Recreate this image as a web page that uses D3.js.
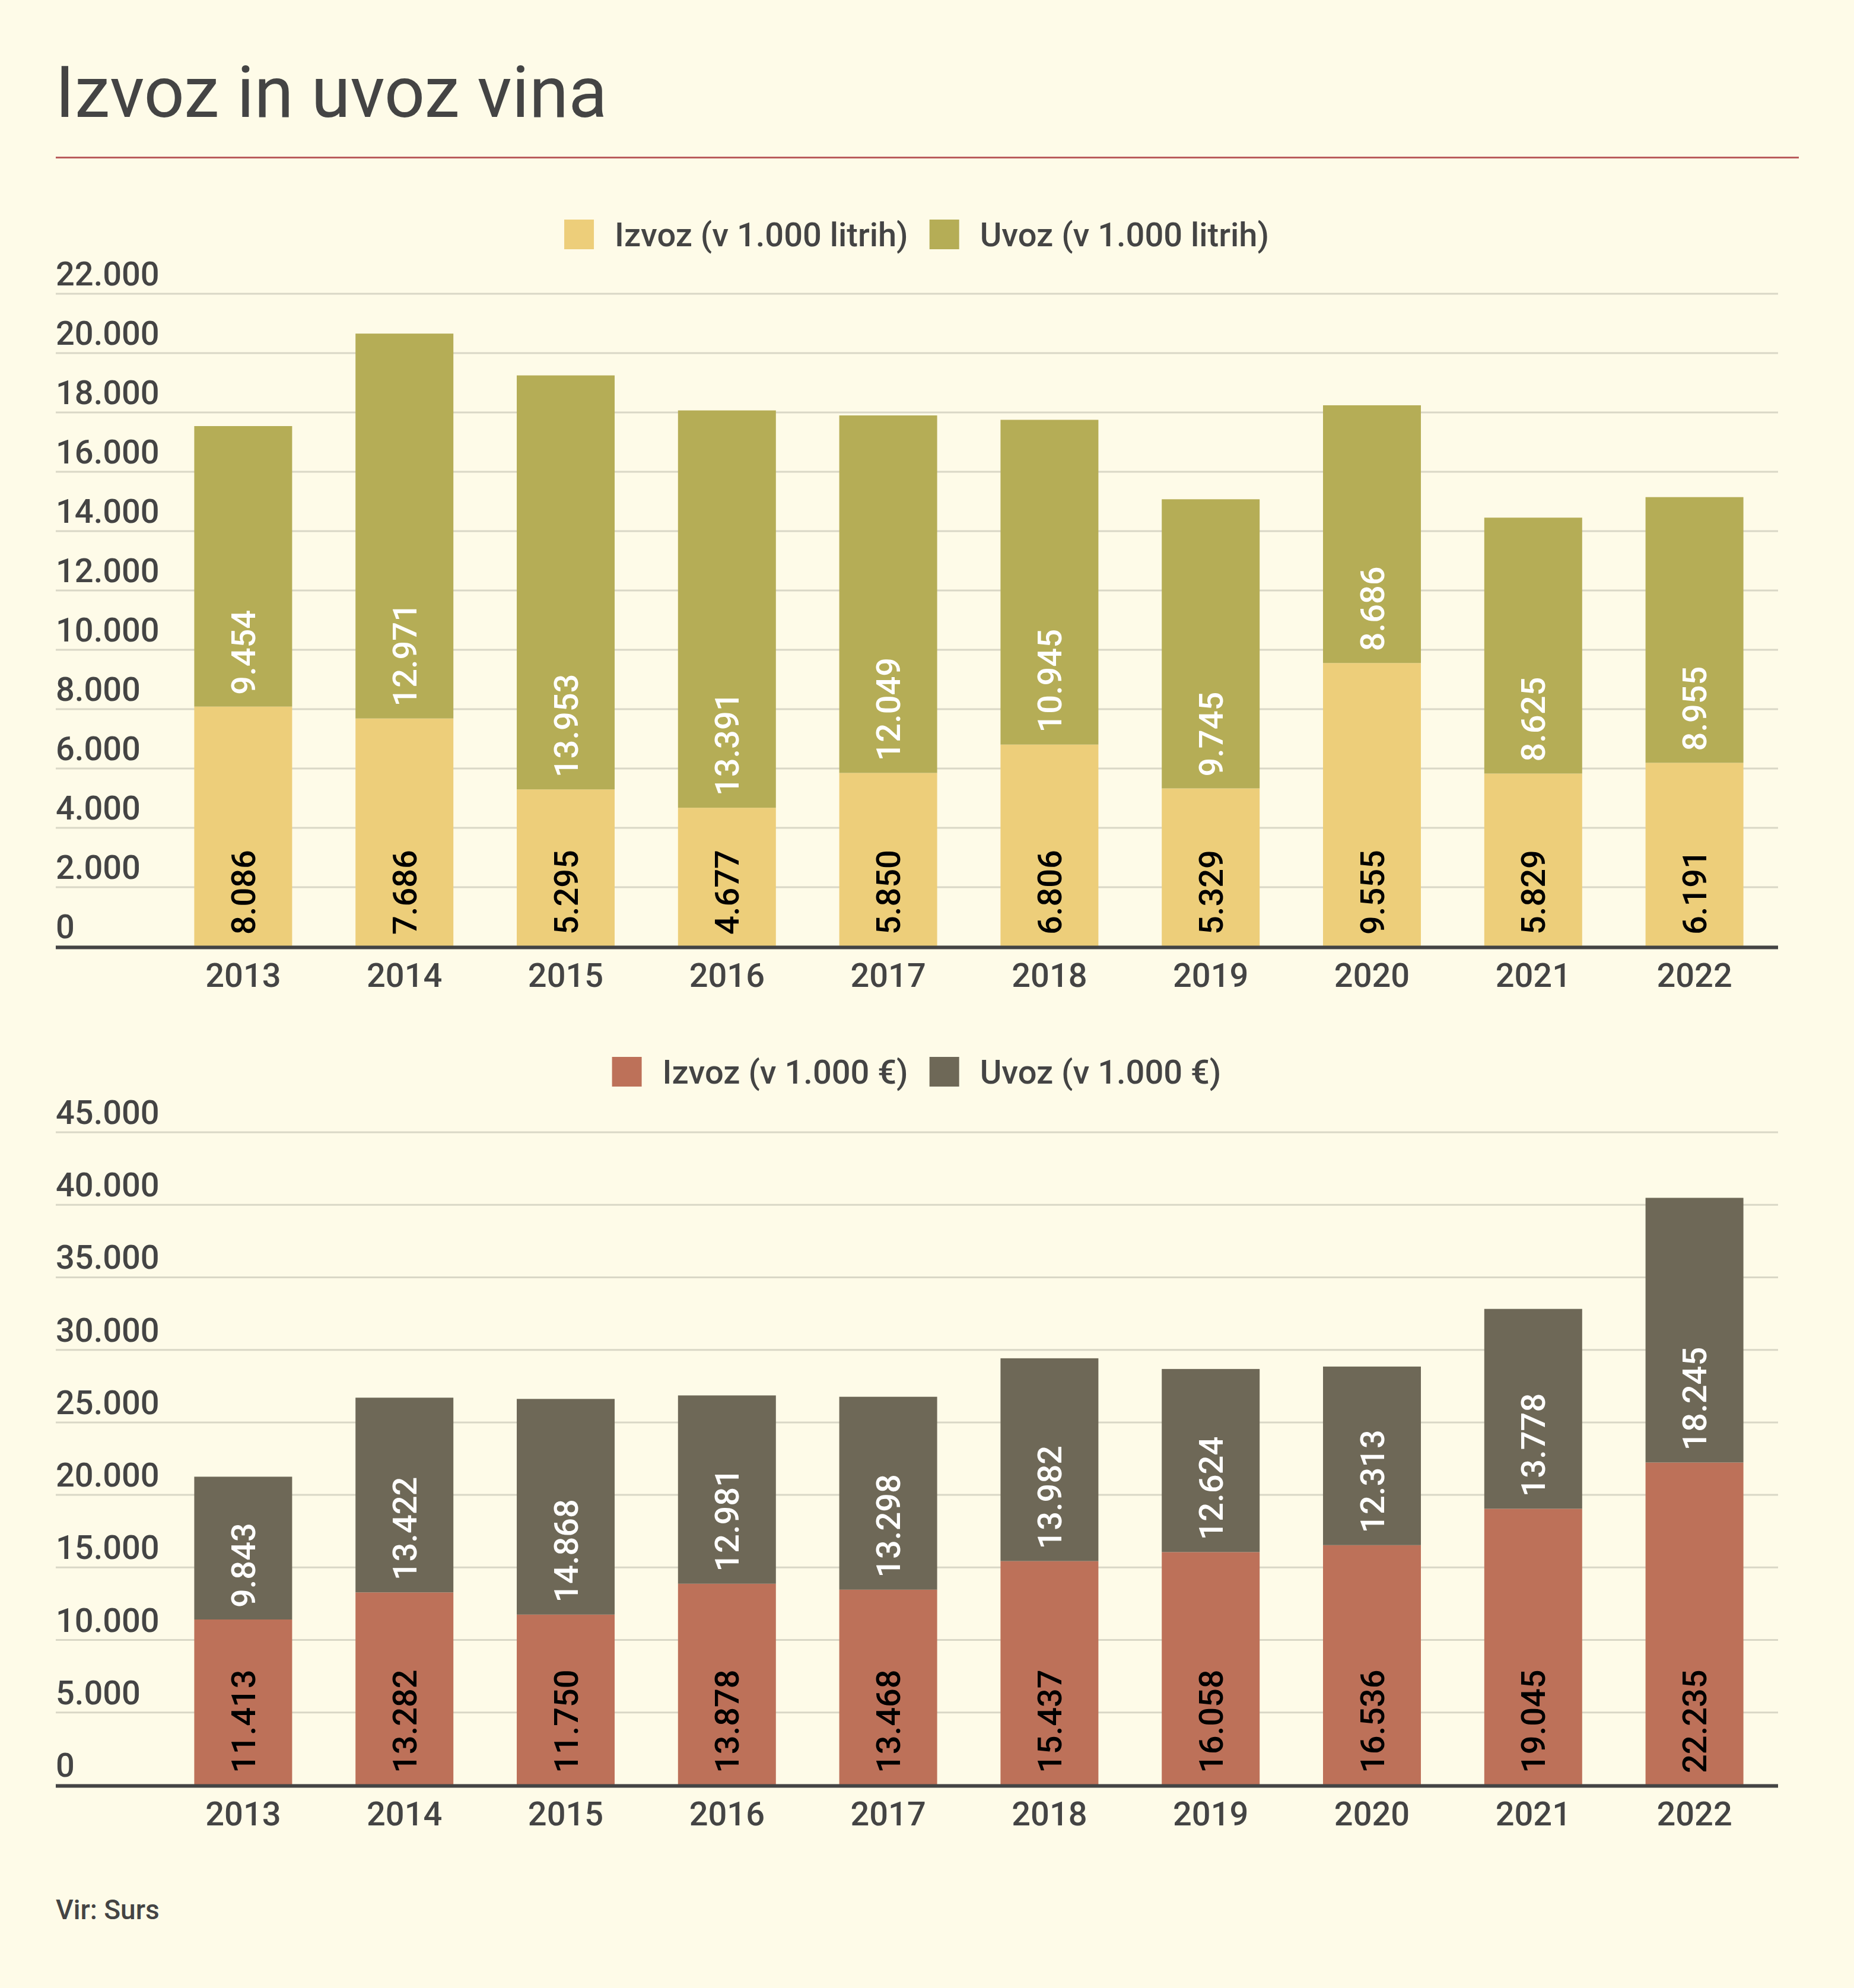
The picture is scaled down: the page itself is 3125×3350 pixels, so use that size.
<!DOCTYPE html>
<html>
<head>
<meta charset="utf-8">
<script src="https://cdn.jsdelivr.net/npm/d3@7"></script>
<style>
  body { margin: 0; background: #fefbe8; }
  svg { display: block; font-family: Roboto, "Noto Sans", sans-serif; }
</style>
</head>
<body>
<svg id="chart" width="3125" height="3350"></svg>
<script>
// Data
var years = ["2013", "2014", "2015", "2016", "2017", "2018", "2019", "2020", "2021", "2022"];

var izvozLitri = [8086, 7686, 5295, 4677, 5850, 6806, 5329, 9555, 5829, 6191];
var uvozLitri = [9454, 12971, 13953, 13391, 12049, 10945, 9745, 8686, 8625, 8955];

var izvozEur = [11413, 13282, 11750, 13878, 13468, 15437, 16058, 16536, 19045, 22235];
var uvozEur = [9843, 13422, 14868, 12981, 13298, 13982, 12624, 12313, 13778, 18245];

var ticksLitri = [0, 2000, 4000, 6000, 8000, 10000, 12000, 14000, 16000, 18000, 20000, 22000];
var ticksEur = [0, 5000, 10000, 15000, 20000, 25000, 30000, 35000, 40000, 45000];

var legendLitri = ["Izvoz (v 1.000 litrih)", "Uvoz (v 1.000 litrih)"];
var legendEur = ["Izvoz (v 1.000 €)", "Uvoz (v 1.000 €)"];

// Slovene number format: 12.345
var fmt = d3.formatLocale({ decimal: ",", thousands: ".", grouping: [3], currency: ["", " €"] }).format(",d");

var svg = d3.select("#chart");
var textColor = "#444444";

// Title
svg.append("text")
    .attr("x", 93)
    .attr("y", 197)
    .attr("font-size", 120)
    .attr("fill", textColor)
    .text("Izvoz in uvoz vina");

svg.append("line")
    .attr("x1", 94).attr("x2", 3032)
    .attr("y1", 265.5).attr("y2", 265.5)
    .attr("stroke", "#b95c5c")
    .attr("stroke-width", 3);

var x = d3.scaleBand()
    .domain(years)
    .range([274, 2992])
    .paddingInner(0.393)
    .paddingOuter(0.1965);

function drawChart(cfg) {
    var g = svg.append("g");
    var y = d3.scaleLinear().domain(cfg.domain).range(cfg.range);
    var y0 = y(0);

    // Legend
    var legend = g.append("g");
    var lx = 0;
    cfg.legend.forEach(function (name, i) {
        var item = legend.append("g").attr("transform", "translate(" + lx + ",0)");
        item.append("rect")
            .attr("x", 0).attr("y", cfg.legendY - 25)
            .attr("width", 50).attr("height", 50)
            .attr("fill", cfg.colors[i]);
        var t = item.append("text")
            .attr("x", 85).attr("y", cfg.legendY + 20)
            .attr("font-size", 56)
            .attr("font-weight", 500)
            .attr("fill", textColor)
            .text(name);
        lx += 85 + t.node().getComputedTextLength() + 36;
    });
    lx -= 36;
    legend.attr("transform", "translate(" + (1545 - lx / 2) + ",0)");

    // Gridlines and tick labels
    g.append("g").selectAll("line")
        .data(cfg.ticks)
        .enter()
        .append("line")
        .attr("x1", 94).attr("x2", 2997)
        .attr("y1", d => y(d)).attr("y2", d => y(d))
        .attr("stroke", "#d9d7c6")
        .attr("stroke-width", 3);

    g.append("g").selectAll("text")
        .data(cfg.ticks)
        .enter()
        .append("text")
        .attr("x", 94)
        .attr("y", d => y(d) - 14)
        .attr("font-size", 56)
        .attr("font-weight", 500)
        .attr("fill", textColor)
        .text(d => fmt(d));

    // Stacked bars
    var rows = years.map((yr, i) => ({ year: yr, a: cfg.lower[i], b: cfg.upper[i] }));

    var bars = g.append("g").selectAll("g")
        .data(rows)
        .enter()
        .append("g");

    bars.append("rect")
        .attr("x", d => x(d.year))
        .attr("width", x.bandwidth())
        .attr("y", d => y(d.a))
        .attr("height", d => y0 - y(d.a))
        .attr("fill", cfg.colors[0]);

    bars.append("rect")
        .attr("x", d => x(d.year))
        .attr("width", x.bandwidth())
        .attr("y", d => y(d.a + d.b))
        .attr("height", d => y(d.a) - y(d.a + d.b))
        .attr("fill", cfg.colors[1]);

    // Value labels, rotated
    bars.append("text")
        .attr("transform", d => "translate(" + (x(d.year) + x.bandwidth() / 2) + "," + (y0 - 20) + ") rotate(-90)")
        .attr("dy", "0.36em")
        .attr("font-size", 56)
        .attr("font-weight", 500)
        .attr("fill", "#000000")
        .text(d => fmt(d.a));

    bars.append("text")
        .attr("transform", d => "translate(" + (x(d.year) + x.bandwidth() / 2) + "," + (y(d.a) - 20) + ") rotate(-90)")
        .attr("dy", "0.36em")
        .attr("font-size", 56)
        .attr("font-weight", 500)
        .attr("fill", "#ffffff")
        .text(d => fmt(d.b));

    // Baseline
    g.append("line")
        .attr("x1", 94).attr("x2", 2997)
        .attr("y1", y0 + 1.5).attr("y2", y0 + 1.5)
        .attr("stroke", textColor)
        .attr("stroke-width", 6);

    // Year labels
    g.append("g").selectAll("text")
        .data(years)
        .enter()
        .append("text")
        .attr("x", d => x(d) + x.bandwidth() / 2)
        .attr("y", y0 + 68)
        .attr("text-anchor", "middle")
        .attr("font-size", 56)
        .attr("font-weight", 500)
        .attr("fill", textColor)
        .text(d => d);
}

drawChart({
    domain: [0, 22000],
    range: [1595, 495],
    ticks: ticksLitri,
    lower: izvozLitri,
    upper: uvozLitri,
    colors: ["#edce7a", "#b5ad56"],
    legend: legendLitri,
    legendY: 395
});

drawChart({
    domain: [0, 45000],
    range: [3008, 1908],
    ticks: ticksEur,
    lower: izvozEur,
    upper: uvozEur,
    colors: ["#bd7159", "#6e6857"],
    legend: legendEur,
    legendY: 1806
});

// Source
svg.append("text")
    .attr("x", 94)
    .attr("y", 3234)
    .attr("font-size", 46)
    .attr("font-weight", 500)
    .attr("fill", textColor)
    .text("Vir: Surs");
</script>
</body>
</html>
